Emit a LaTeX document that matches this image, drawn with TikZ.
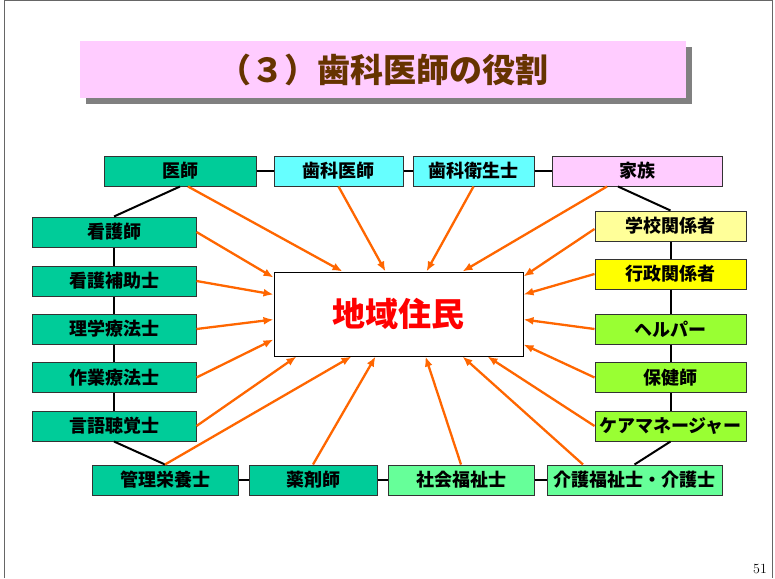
\documentclass[tikz,border=0pt]{standalone}
\usepackage{fontspec}
\newfontfamily\jp{Noto Sans CJK JP}
\usetikzlibrary{calc,arrows.meta}
\definecolor{vert}{RGB}{0,204,153}
\definecolor{cyanclair}{RGB}{102,255,255}
\definecolor{rose}{RGB}{255,204,255}
\definecolor{jaunepale}{RGB}{255,255,153}
\definecolor{jaune}{RGB}{255,255,0}
\definecolor{citron}{RGB}{153,255,51}
\definecolor{vertclair}{RGB}{102,255,153}
\definecolor{ocre}{RGB}{255,102,0}
\definecolor{brun}{RGB}{102,51,0}

\begin{document}
\begin{tikzpicture}[x=1pt,y=-1pt,
  boite/.style={draw=black!80, line width=1pt, minimum height=30pt, inner sep=0pt,
    font=\jp\bfseries\fontsize{18}{18}\selectfont},
  lien/.style={line width=2pt},
  fleche/.style={ocre, line width=2.3pt, ->, >={Latex[length=10pt,width=8pt]}}]
\useasboundingbox (0,0) rectangle (775,578);
\draw [black!60, line width=1pt] (4,578) -- (4,0.5) -- (772.5,0.5) -- (772.5,578);
% titre
\fill [black!50] (86,47) rectangle (692,104);
\fill [rose] (80,41) rectangle (686,98);
\node [text=brun, font=\jp\bfseries\fontsize{33}{33}\selectfont] (titre) at (383,70) {（３）歯科医師の役割};
% centre
\node [draw, line width=1pt, fill=white, minimum width=249pt, minimum height=84pt, inner sep=0pt,
  text=red, font=\jp\bfseries\fontsize{33}{33}\selectfont] (jumin) at (398.5,314) {地域住民};
% ligne du haut
\node [boite, fill=vert, minimum width=152pt] (ishi) at (180,171) {医師};
\node [boite, fill=cyanclair, minimum width=129pt] (shika) at (338.5,171) {歯科医師};
\node [boite, fill=cyanclair, minimum width=121pt] (eisei) at (473.5,171) {歯科衛生士};
\node [boite, fill=rose, minimum width=170pt] (kazoku) at (637,171) {家族};
% colonne de gauche
\node [boite, fill=vert, minimum width=164pt] (kango) at (114,232) {看護師};
\node [boite, fill=vert, minimum width=164pt] (hojo) at (114,281) {看護補助士};
\node [boite, fill=vert, minimum width=164pt] (rigaku) at (114,329) {理学療法士};
\node [boite, fill=vert, minimum width=164pt] (sagyo) at (114,377.5) {作業療法士};
\node [boite, fill=vert, minimum width=164pt] (gengo) at (114,426) {言語聴覚士};
% colonne de droite
\node [boite, fill=jaunepale, minimum width=151pt] (gakko) at (670.5,226) {学校関係者};
\node [boite, fill=jaune, minimum width=151pt] (gyosei) at (670.5,274) {行政関係者};
\node [boite, fill=citron, minimum width=151pt] (helper) at (670.5,329) {ヘルパー};
\node [boite, fill=citron, minimum width=151pt] (hoken) at (670.5,377.5) {保健師};
\node [boite, fill=citron, minimum width=151pt] (caremane) at (670.5,426) {ケアマネージャー};
% ligne du bas
\node [boite, fill=vert, minimum width=146pt] (kanri) at (165,480) {管理栄養士};
\node [boite, fill=vert, minimum width=128pt] (yakuzai) at (313,480) {薬剤師};
\node [boite, fill=vertclair, minimum width=146pt] (shakai) at (461,480) {社会福祉士};
\node [boite, fill=vertclair, minimum width=175pt] (kaigo) at (634.5,480) {介護福祉士・介護士};
% liens
\draw [lien] (ishi) -- (shika);
\draw [lien] (shika) -- (eisei);
\draw [lien] (eisei) -- (kazoku);
\draw [lien] (ishi.south) -- (kango.north);
\draw [lien] (kango) -- (hojo);
\draw [lien] (hojo) -- (rigaku);
\draw [lien] (rigaku) -- (sagyo);
\draw [lien] (sagyo) -- (gengo);
\draw [lien] (gengo.south) -- (kanri.north);
\draw [lien] (kanri) -- (yakuzai);
\draw [lien] (yakuzai) -- (shakai);
\draw [lien] (shakai) -- (kaigo);
\draw [lien] ($(kazoku.south)+(-19,0)$) -- (gakko.north);
\draw [lien] (gakko) -- (gyosei);
\draw [lien] (gyosei) -- (helper);
\draw [lien] (helper) -- (hoken);
\draw [lien] (hoken) -- (caremane);
\draw [lien] (caremane.south) -- (kaigo.north);
% fleches
\draw [fleche] ($(ishi.south)+(8,0)$) -- ($(jumin.north west)+(69,0)$);
\draw [fleche] (shika.south) -- ($(jumin.north west)+(112,0)$);
\draw [fleche] (eisei.south) -- ($(jumin.north west)+(153,0)$);
\draw [fleche] ($(kazoku.south)+(-30,0)$) -- ($(jumin.north west)+(189,0)$);
\draw [fleche] ($(gakko.west)+(0,3)$) -- ($(jumin.north east)+(0,5)$);
\draw [fleche] (gyosei.west) -- ($(jumin.north east)+(0,23)$);
\draw [fleche] (helper.west) -- ($(jumin.north east)+(0,48)$);
\draw [fleche] (hoken.west) -- ($(jumin.north east)+(0,73)$);
\draw [fleche] (caremane.west) -- ($(jumin.south east)+(-36,0)$);
\draw [fleche] ($(kaigo.north)+(-51.5,0)$) -- ($(jumin.south west)+(189,0)$);
\draw [fleche] (shakai.north) -- ($(jumin.south west)+(152,0)$);
\draw [fleche] (yakuzai.north) -- ($(jumin.south west)+(102,0)$);
\draw [fleche] (kanri.north) -- ($(jumin.south west)+(78,0)$);
\draw [fleche] (gengo.east) -- ($(jumin.south west)+(23,0)$);
\draw [fleche] (sagyo.east) -- ($(jumin.north west)+(0,68)$);
\draw [fleche] (rigaku.east) -- ($(jumin.north west)+(0,48)$);
\draw [fleche] (hojo.east) -- ($(jumin.north west)+(0,23)$);
\draw [fleche] (kango.east) -- ($(jumin.north west)+(0,6)$);
\node (page) at (760,569) {\fontsize{14}{14}\selectfont 51};
\end{tikzpicture}
\end{document}
